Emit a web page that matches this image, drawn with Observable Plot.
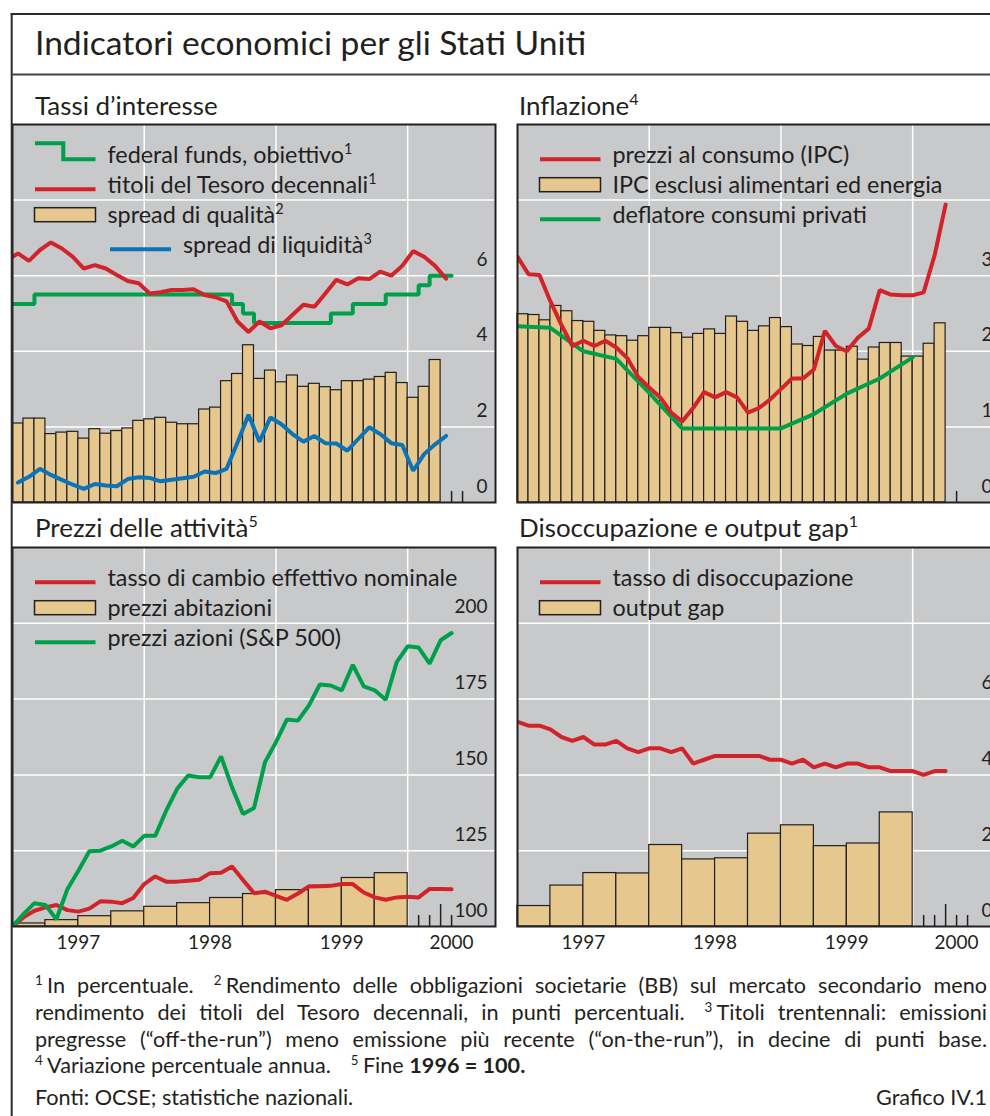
<!DOCTYPE html>
<html lang="it">
<head>
<meta charset="utf-8">
<title>Indicatori economici per gli Stati Uniti</title>
<script src="https://cdn.jsdelivr.net/npm/d3@7"></script>
<script src="https://cdn.jsdelivr.net/npm/@observablehq/plot@0.6"></script>
<style>
html, body { margin:0; padding:0; background:#fff; overflow:hidden; }
body { width:990px; height:1116px; position:relative; }
.panel { position:absolute; width:483px; }
.panel svg { max-width:none !important; }
#overlay { position:absolute; left:0; top:0; }
</style>
</head>
<body>
<div id="tl" class="panel"></div>
<div id="tr" class="panel"></div>
<div id="bl" class="panel"></div>
<div id="br" class="panel"></div>
<svg id="overlay" width="990" height="1116"></svg>
<script>
// ---------------- DATA ----------------
const years = ["1997", "1998", "1999", "2000"];

// Tassi d'interesse
const fedFundsStart = "1997-01";          // month-start steps
const fedFundsTarget = [5.25,5.25,
  5.5,5.5,5.5,5.5,5.5,5.5,5.5,5.5,5.5,5.5,5.5,5.5,5.5,5.5,5.5,5.5,5.5,5.5,
  5.25,5.0,4.75,4.75,4.75,4.75,4.75,4.75,4.75,5.0,5.0,5.25,5.25,5.25,5.5,5.5,5.5,5.75,6.0,6.0];
const treasury10yStart = "1996-12";       // mid-month
const treasury10y = [6.41,6.59,6.39,6.68,6.88,6.72,6.5,6.19,6.28,6.19,6.02,5.86,5.8,5.53,5.56,5.62,5.62,5.64,5.49,5.43,5.32,
  4.79,4.51,4.79,4.61,4.69,4.96,5.23,5.18,5.53,5.89,5.77,5.93,5.91,6.11,6.0,6.26,6.65,6.5,6.26,5.92];
const qualitySpreadStart = "1997-01";     // monthly bars
const qualitySpread = [2.09,2.22,2.22,1.81,1.85,1.87,1.69,1.94,1.82,1.89,1.96,2.16,2.2,2.24,2.11,2.07,2.07,2.46,2.51,3.21,
  3.4,4.16,3.27,3.49,3.18,3.36,3.06,3.14,3.05,2.97,3.21,3.21,3.25,3.32,3.43,3.16,2.77,3.06,3.77];
const liquiditySpreadStart = "1997-01";   // mid-month
const liquiditySpread = [0.53,0.68,0.89,0.73,0.6,0.47,0.36,0.49,0.45,0.43,0.62,0.67,0.65,0.56,0.6,0.64,0.68,0.82,0.78,0.89,
  1.59,2.32,1.61,2.25,2.07,1.81,1.61,1.76,1.57,1.56,1.37,1.68,1.99,1.81,1.57,1.52,0.84,1.28,1.54,1.76];

// Inflazione
const cpiStart = "1996-12";               // month-end
const cpi = [3.25,3.02,3.01,2.66,2.35,2.07,2.14,2.07,2.14,2.05,1.91,1.66,1.52,1.39,1.19,1.07,1.25,1.46,1.39,1.46,
  1.39,1.19,1.25,1.36,1.5,1.64,1.64,1.76,2.27,2.07,2.0,2.18,2.3,2.81,2.75,2.74,2.74,2.78,3.27,3.94];
const coreCpiStart = "1997-01";           // monthly bars
const coreCpi = [2.49,2.48,2.41,2.6,2.53,2.4,2.39,2.27,2.21,2.2,2.14,2.2,2.31,2.31,2.24,2.18,2.23,2.29,2.23,2.46,
  2.39,2.27,2.33,2.44,2.32,2.09,2.07,2.19,2.01,2.01,2.06,1.89,2.05,2.11,2.11,1.93,1.93,2.1,2.37];
const pceDeflatorStart = "1996-Q4";       // quarter-end
const pceDeflator = [2.33,2.31,2.0,1.9,1.45,0.98,0.98,0.98,0.98,1.17,1.44,1.64,1.92];

// Prezzi delle attività (fine 1996 = 100)
const exchangeRateStart = "1996-12";      // month-end
const exchangeRate = [100,103.0,105.2,106.3,107.1,105.4,104.9,105.9,108.3,108.2,107.7,109.4,114.0,116.5,114.8,114.8,115.1,115.4,117.6,117.7,
  119.8,115.3,111.0,111.5,110.1,108.8,110.9,113.2,113.3,113.4,114.0,114.0,111.2,109.6,108.8,109.6,109.8,109.6,112.4,112.4,112.3];
const sp500Start = "1996-12";             // month-end
const sp500 = [100,104.1,107.7,107.1,102.4,112.3,118.4,124.8,125.0,126.4,128.3,126.4,129.9,129.9,138.2,145.4,149.8,149.2,149.2,156.1,
  145.9,137.1,139.1,154.2,160.8,168.3,167.9,172.9,179.8,179.5,177.9,186.3,179.2,177.9,174.8,187.2,192.4,192.0,186.7,194.4,196.8];
const housePricesStart = "1997-Q1";       // quarterly bars
const housePrices = [101.0,102.1,103.4,105.0,106.5,107.7,109.4,110.7,112.0,113.4,116.0,117.6];

// Disoccupazione e output gap
const unemploymentStart = "1996-12";      // month-end
const unemployment = [5.4,5.3,5.3,5.2,5.0,4.9,5.0,4.8,4.8,4.9,4.7,4.6,4.7,4.7,4.6,4.7,4.3,4.4,4.5,4.5,
  4.5,4.5,4.5,4.4,4.4,4.3,4.4,4.2,4.3,4.2,4.3,4.3,4.2,4.2,4.1,4.1,4.1,4.0,4.1,4.1];
const outputGapStart = "1997-Q1";         // quarterly bars
const outputGap = [0.54,1.08,1.41,1.40,2.15,1.77,1.80,2.45,2.67,2.12,2.19,3.01];

// axis ticks
const rateGrid = [2, 4, 6, 8], rateLabels = [0, 2, 4, 6];
const inflGrid = [1, 2, 3, 4], inflLabels = [0, 1, 2, 3];
const assetGrid = [125, 150, 175, 200], assetLabels = [100, 125, 150, 175, 200];
const unempGrid = [2, 4, 6, 8], unempLabels = [0, 2, 4, 6];
const xEnd = "2000-09";   // right end of time axis

// ---------------- HELPERS ----------------
const F = "Lato, 'Open Sans', sans-serif";
const INK = "#231f20", GRAY = "#c8c9cb", TAN = "#e6c78d";
const RED = "#d2232a", GREEN = "#00a04b", BLUE = "#0b73b9";

const ctx = document.createElement("canvas").getContext("2d");
function fit(text, target, weight = 400) {
  ctx.font = `${weight} 100px ${F}`;
  return +(100 * target / ctx.measureText(text).width).toFixed(2);
}
const titleSize = fit("Indicatori economici per gli Stati Uniti", 552);
const panelSize = fit("Disoccupazione e output gap", 330);
const legendSize = fit("tasso di cambio effettivo nominale", 350);
const tickFont = fit("175", 33);
const yearFont = fit("1997", 44);
const noteSize = (fit("Fonti: OCSE; statistiche nazionali.", 318) + fit("Variazione percentuale annua.", 284)) / 2;

function monthIndex(s) { const [y, m] = s.split("-").map(Number); return (y - 1997) * 12 + m - 1; }
function quarterIndex(s) { const [y, q] = s.split("-Q").map(Number); return (y - 1997) * 12 + (q - 1) * 3; }
const at = {start: 0, mid: 0.5, end: 1};
const monthlyPoints = (start, vals, pos) => { const k = monthIndex(start); return vals.map((v, i) => ({x: k + i + at[pos], y: v})); };
const monthlyBars = (start, vals) => { const k = monthIndex(start); return vals.map((v, i) => ({x1: k + i, x2: k + i + 1, y: v})); };
const quarterlyBars = (start, vals) => { const k = quarterIndex(start); return vals.map((v, i) => ({x1: k + 3 * i, x2: k + 3 * i + 3, y: v})); };
const quarterlyPoints = (start, vals) => { const k = quarterIndex(start); return vals.map((v, i) => ({x: k + 3 * i + 3, y: v})); };

const X_END = monthIndex(xEnd);
const yearStarts = years.slice(1).map(y => monthIndex(y + "-01"));
const yearMid = years.map(y => { const a = monthIndex(y + "-01"); return (a + Math.min(a + 12, X_END)) / 2; });

const fedPts = monthlyPoints(fedFundsStart, fedFundsTarget, "start");
fedPts.push({x: fedPts[fedPts.length - 1].x + 1, y: fedPts[fedPts.length - 1].y});

const barOpts = {x1: "x1", x2: "x2", y2: "y", fill: TAN, stroke: INK, strokeWidth: 1.2};
const lineOpts = (color) => ({x: "x", y: "y", stroke: color, strokeWidth: 4, strokeLinejoin: "miter", clip: true});

function drawPanel(id, o) {
  const plotH = o.h, mb = o.years ? 36 : 0;
  const chart = Plot.plot({
    width: 483, height: plotH + mb,
    marginTop: 0, marginRight: 0, marginBottom: mb, marginLeft: 0,
    style: {overflow: "visible", background: "transparent", fontFamily: F, color: INK, maxWidth: "none"},
    x: o.years ? {domain: [0, X_END]} : {domain: [0, X_END], axis: null},
    y: {domain: o.yDomain},
    marks: [
      Plot.frame({fill: GRAY, stroke: "none"}),
      Plot.gridX(yearStarts, {stroke: "#fff", strokeOpacity: 1, strokeWidth: 1.5}),
      Plot.gridY(o.grid, {stroke: "#fff", strokeOpacity: 1, strokeWidth: 1.5}),
      Plot.tickX(o.short.map(monthIndex), {x: d => d, insetTop: plotH - 11, stroke: INK, strokeWidth: 1.5}),
      Plot.tickX(o.tall.map(monthIndex), {x: d => d, insetTop: plotH - 22, stroke: INK, strokeWidth: 1.5}),
      ...o.marks,
      Plot.frame({stroke: INK, strokeWidth: 2}),
      Plot.axisY(o.labels, {anchor: "right", label: null, tickSize: 0, tickPadding: 0, dx: -8, dy: -16,
        textAnchor: "end", tickFormat: d => String(d), fontSize: tickFont, fill: INK}),
      o.years ? Plot.axisX(yearMid, {anchor: "bottom", label: null, tickSize: 0, tickPadding: 16, lineAnchor: "middle",
        tickFormat: d => years[yearMid.indexOf(d)], fontSize: yearFont, fill: INK}) : null
    ]
  });
  const el = document.getElementById(id);
  el.style.left = o.left + "px";
  el.style.top = o.top + "px";
  el.append(chart);
}

drawPanel("tl", {left: 12, top: 124, h: 378, yDomain: [0, 10], grid: rateGrid, labels: rateLabels,
  short: ["2000-05", "2000-06"], tall: [], years: false,
  marks: [
    Plot.rectY(monthlyBars(qualitySpreadStart, qualitySpread), {...barOpts, y1: 0}),
    Plot.line(monthlyPoints(liquiditySpreadStart, liquiditySpread, "mid"), lineOpts(BLUE)),
    Plot.line(fedPts, {...lineOpts(GREEN), curve: "step-after"}),
    Plot.line(monthlyPoints(treasury10yStart, treasury10y, "mid"), lineOpts(RED))
  ]});

drawPanel("tr", {left: 517, top: 124, h: 378, yDomain: [0, 5], grid: inflGrid, labels: inflLabels,
  short: ["2000-05"], tall: [], years: false,
  marks: [
    Plot.rectY(monthlyBars(coreCpiStart, coreCpi), {...barOpts, y1: 0}),
    Plot.line(quarterlyPoints(pceDeflatorStart, pceDeflator), lineOpts(GREEN)),
    Plot.line(monthlyPoints(cpiStart, cpi, "end"), lineOpts(RED))
  ]});

drawPanel("bl", {left: 12, top: 547, h: 379, yDomain: [100, 225], grid: assetGrid, labels: assetLabels,
  short: ["2000-02", "2000-03", "2000-05"], tall: ["2000-04"], years: true,
  marks: [
    Plot.rectY(quarterlyBars(housePricesStart, housePrices), {...barOpts, y1: 100}),
    Plot.line(monthlyPoints(exchangeRateStart, exchangeRate, "end"), lineOpts(RED)),
    Plot.line(monthlyPoints(sp500Start, sp500, "end"), lineOpts(GREEN))
  ]});

drawPanel("br", {left: 517, top: 547, h: 379, yDomain: [0, 10], grid: unempGrid, labels: unempLabels,
  short: ["2000-02", "2000-03", "2000-05", "2000-06"], tall: ["2000-04"], years: true,
  marks: [
    Plot.rectY(quarterlyBars(outputGapStart, outputGap), {...barOpts, y1: 0}),
    Plot.line(monthlyPoints(unemploymentStart, unemployment, "end"), lineOpts(RED))
  ]});

// ---------------- OVERLAY: frame, titles, legends, notes ----------------
const svg = d3.select("#overlay").attr("font-family", F).attr("fill", INK);
svg.append("line").attr("x1", 10.7).attr("x2", 990).attr("y1", 14).attr("y2", 14).attr("stroke", "#2b2b2b").attr("stroke-width", 2);
svg.append("line").attr("x1", 11.7).attr("x2", 11.7).attr("y1", 13).attr("y2", 1116).attr("stroke", "#2b2b2b").attr("stroke-width", 2);
svg.append("line").attr("x1", 11.7).attr("x2", 990).attr("y1", 74.5).attr("y2", 74.5).attr("stroke", "#444").attr("stroke-width", 2);

function label(x, y, size, str, sup) {
  const t = svg.append("text").attr("x", x).attr("y", y).attr("font-size", size);
  t.append("tspan").text(str);
  if (sup) t.append("tspan").attr("font-size", size * 0.62).attr("dy", -size * 0.38).text(sup);
  return t;
}
label(35, 55, titleSize, "Indicatori economici per gli Stati Uniti");
label(35, 115, panelSize, "Tassi d’interesse");
label(519, 115, panelSize, "Inflazione", "4");
label(35, 537, panelSize, "Prezzi delle attività", "5");
label(519, 537, panelSize, "Disoccupazione e output gap", "1");

const legends = [
  {left: 12, top: 124, items: [
    {type: "step", color: GREEN, text: "federal funds, obiettivo", sup: "1"},
    {type: "line", color: RED, text: "titoli del Tesoro decennali", sup: "1"},
    {type: "rect", text: "spread di qualità", sup: "2"},
    {type: "line", color: BLUE, text: "spread di liquidità", sup: "3", indent: true}]},
  {left: 517, top: 124, items: [
    {type: "line", color: RED, text: "prezzi al consumo (IPC)"},
    {type: "rect", text: "IPC esclusi alimentari ed energia"},
    {type: "line", color: GREEN, text: "deflatore consumi privati"}]},
  {left: 12, top: 547, items: [
    {type: "line", color: RED, text: "tasso di cambio effettivo nominale"},
    {type: "rect", text: "prezzi abitazioni"},
    {type: "line", color: GREEN, text: "prezzi azioni (S&P 500)"}]},
  {left: 517, top: 547, items: [
    {type: "line", color: RED, text: "tasso di disoccupazione"},
    {type: "rect", text: "output gap"}]}
];
for (const lg of legends) {
  lg.items.forEach((it, i) => {
    const b = lg.top + 38.7 + 30 * i;
    const x0 = lg.left + (it.indent ? 98 : 23), x1 = lg.left + (it.indent ? 159 : 83.5);
    const tx = lg.left + (it.indent ? 171 : 95.5);
    if (it.type === "line") {
      svg.append("line").attr("x1", x0).attr("x2", x1).attr("y1", b - 3.5).attr("y2", b - 3.5)
        .attr("stroke", it.color).attr("stroke-width", 4);
    } else if (it.type === "step") {
      svg.append("path").attr("d", `M${x0},${b - 19.4}H${lg.left + 51.3}V${b - 3.4}H${x1}`)
        .attr("fill", "none").attr("stroke", it.color).attr("stroke-width", 4);
    } else {
      svg.append("rect").attr("x", lg.left + 22.5).attr("y", b - 15).attr("width", 61).attr("height", 14)
        .attr("fill", TAN).attr("stroke", INK).attr("stroke-width", 1.5);
    }
    label(tx, b, legendSize, it.text, it.sup);
  });
}

// footnotes
const noteLines = [
  [["s", "1"], ["t", "In percentuale."], ["g"], ["s", "2"], ["t", "Rendimento delle obbligazioni societarie (BB) sul mercato secondario meno"]],
  [["t", "rendimento dei titoli del Tesoro decennali, in punti percentuali."], ["g"], ["s", "3"], ["t", "Titoli trentennali: emissioni"]],
  [["t", "pregresse (“off-the-run”) meno emissione più recente (“on-the-run”), in decine di punti base."]],
  [["s", "4"], ["t", "Variazione percentuale annua."], ["g"], ["s", "5"], ["t", "Fine "], ["b", "1996 = 100."]]
];
const noteBase = [993, 1020, 1047, 1073];
noteLines.forEach((parts, li) => {
  const t = svg.append("text").attr("x", 35).attr("y", noteBase[li]).attr("font-size", noteSize);
  let gap = 0, raised = false;
  for (const p of parts) {
    if (p[0] === "g") { gap = 20; continue; }
    const ts = t.append("tspan").text(p[1]);
    if (p[0] === "s") {
      ts.attr("font-size", noteSize * 0.62).attr("dy", -noteSize * 0.38);
      if (gap) ts.attr("dx", gap);
      raised = true;
    } else {
      if (raised) { ts.attr("dy", noteSize * 0.38).attr("dx", noteSize * 0.2); raised = false; }
      else if (gap) ts.attr("dx", gap);
      if (p[0] === "b") ts.attr("font-weight", 700);
    }
    gap = 0;
  }
  if (li < 3) {
    const w = t.node().getBBox().width;
    const n = (t.text().match(/ /g) || []).length;
    t.attr("word-spacing", Math.max(0, (952 - w) / n));
  }
});
svg.append("text").attr("x", 35).attr("y", 1105).attr("font-size", noteSize).text("Fonti: OCSE; statistiche nazionali.");
svg.append("text").attr("x", 987).attr("y", 1105).attr("font-size", noteSize).attr("text-anchor", "end").text("Grafico IV.1");
</script>
</body>
</html>
